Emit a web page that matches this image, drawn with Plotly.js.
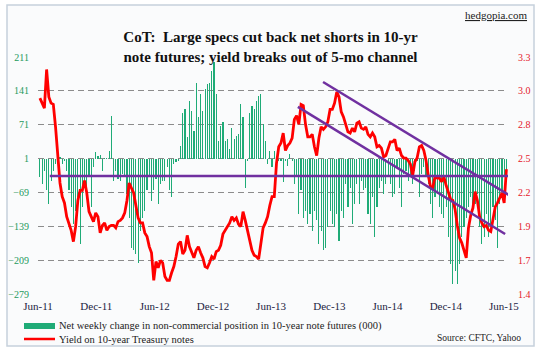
<!DOCTYPE html>
<html><head><meta charset="utf-8">
<script src="https://cdn.plot.ly/plotly-3.0.1.min.js"></script>
<style>html,body{margin:0;padding:0;background:#fff;}#chart{width:541px;height:353px;}</style>
</head><body><div id="chart"></div>
<script>
// Weekly CoT report dates start (Tuesdays)
const firstWeek = [2011, 5, 7];

// Net weekly change in non-commercial position, 10-yr note futures (000)
const netChange = [
-38,-52,-24,-65,-93,-45,-24,-10,-3,5,
-10,-3,-24,-65,-100,-134,-107,-79,-176,-100,
-52,-79,-38,-100,-17,14,7,9,-24,3,
3,17,90,-45,-24,-41,-45,-31,-38,-72,
-121,-183,-189,-196,-214,-148,-121,-107,-65,-38,
-86,-65,-41,-93,-52,-45,-45,-17,-65,-79,
-10,-7,-3,28,96,103,45,121,100,59,
158,86,134,100,145,155,158,183,200,134,
38,69,76,38,41,21,65,41,48,52,
114,86,-59,-3,96,110,103,121,131,134,
72,38,-10,17,-17,17,3,-3,-3,-48,
-3,-14,10,-3,-52,-38,-114,-65,-121,-107,
-134,-114,-148,-107,-127,-176,-148,-189,-183,-141,
-107,-134,-141,-114,-169,-107,-121,-52,-100,-59,
-134,-93,-52,-93,-45,-65,-59,-114,-134,-79,
-162,-100,-59,-45,-72,-52,-38,-52,-79,-72,
-17,-59,-100,-31,-24,-45,-38,-52,-24,-3,
-79,-31,-17,-38,-52,-93,-121,-79,-72,-100,
-114,-121,-100,-162,-217,-258,-231,-258,-217,-162,
-141,-121,-100,-79,-100,-93,-72,-141,-176,-162,
-114,-162,-134,-100,-127,-183,-93,-65,-38,-24
];

// Yield on 10-year Treasury notes (%)
const yield10 = [
2.97,2.93,2.89,3.20,2.98,2.93,2.92,2.74,2.53,2.29,
2.18,2.13,2.02,1.97,1.91,1.82,1.94,2.15,2.23,2.23,
2.31,2.21,2.06,2.02,1.98,2.05,2.02,1.89,1.95,1.97,
1.91,1.94,1.95,1.95,1.93,1.98,1.99,2.01,2.05,2.15,
2.29,2.25,2.21,2.11,2.01,1.97,1.97,1.89,1.86,1.78,
1.73,1.51,1.66,1.61,1.67,1.65,1.54,1.51,1.51,1.57,
1.62,1.70,1.80,1.82,1.72,1.75,1.87,1.78,1.73,1.69,
1.75,1.78,1.73,1.69,1.62,1.61,1.65,1.70,1.68,1.74,
1.75,1.79,1.88,1.91,1.93,1.97,2.02,1.99,2.01,1.96,
1.94,2.06,1.99,1.91,1.82,1.75,1.71,1.70,1.68,1.81,
1.93,1.97,2.02,2.11,2.18,2.18,2.45,2.58,2.61,2.69,
2.55,2.59,2.61,2.65,2.80,2.83,2.76,2.92,2.91,2.76,
2.66,2.66,2.68,2.58,2.51,2.65,2.74,2.72,2.74,2.78,
2.88,2.88,2.93,3.02,2.98,2.86,2.82,2.76,2.70,2.69,
2.73,2.70,2.77,2.78,2.73,2.72,2.74,2.68,2.66,2.69,
2.66,2.58,2.59,2.57,2.50,2.51,2.57,2.62,2.62,2.64,
2.55,2.57,2.51,2.49,2.49,2.47,2.44,2.35,2.46,2.49,
2.58,2.59,2.55,2.47,2.35,2.26,2.25,2.34,2.33,2.33,
2.30,2.34,2.27,2.21,2.16,2.15,2.08,1.95,1.85,1.81,
1.74,1.69,1.93,2.03,2.09,2.22,2.15,2.02,1.97,1.94,
1.95,1.91,1.90,1.99,2.10,2.13,2.17,2.21,2.13,2.40
];

const xTickVals = ['2011-06-01','2011-12-01','2012-06-01','2012-12-01','2013-06-01','2013-12-01','2014-06-01','2014-12-01','2015-06-01'];
const xTickText = ['Jun-11','Dec-11','Jun-12','Dec-12','Jun-13','Dec-13','Jun-14','Dec-14','Jun-15'];
const leftTickVals = [211,141,71,1,-69,-139,-209,-279];
const rightTickVals = [1.4,1.6714,1.9429,2.2143,2.4857,2.7571,3.0286,3.3];
const rightTickText = ['1.4','1.7','1.9','2.2','2.5','2.8','3.0','3.3'];

// Analyst lines (dates, yield)
const flatLineX = ['2011-07-08','2015-06-27'];
const flatLineY = [2.346,2.346];
const upperChannelX = ['2013-11-11','2015-07-22'];
const upperChannelY = [3.10,2.138];
const lowerChannelX = ['2013-08-24','2015-06-05'];
const lowerChannelY = [2.90,1.881];

const weeks = netChange.map((_, i) => {
  const d = new Date(Date.UTC(firstWeek[0], firstWeek[1], firstWeek[2]));
  d.setUTCDate(d.getUTCDate() + 7 * i);
  return d.toISOString().slice(0, 10);
});

const SERIF = 'Liberation Serif, Times New Roman, serif';
const GREEN = '#1fab77';
const RED = '#ff0000';
const PURPLE = '#7030a0';

const traces = [
  {type:'bar', x:weeks, y:netChange, yaxis:'y', name:'Net weekly change',
   marker:{color:GREEN, line:{width:0}}, width:3.6*86400000, hoverinfo:'x+y'},
  {type:'scatter', mode:'lines', x:weeks, y:yield10, yaxis:'y2', name:'Yield',
   line:{color:RED, width:2.8}}
];

function seg(x, y, col) {
  return {type:'line', xref:'x', yref:'y2', x0:x[0], x1:x[1], y0:y[0], y1:y[1],
          line:{color:col, width:2.5}, layer:'above'};
}
function px(xp){ return (xp - 38) / 470; }
function py(yp){ return (294 - yp) / 237; }

const layout = {
  width:541, height:353,
  margin:{l:38, r:33, t:57, b:59, pad:0},
  paper_bgcolor:'#ffffff', plot_bgcolor:'#fcfcf5',
  showlegend:false, bargap:0,
  font:{family:SERIF},
  title:{text:'<b>CoT:  Large specs cut back net shorts in 10-yr<br>note futures; yield breaks out of 5-mo channel</b>',
         font:{family:SERIF, size:15, color:'#111111'}, x:0.5, xanchor:'center', xref:'container',
         y:1 - 42/353, yanchor:'middle', yref:'container'},
  xaxis:{type:'date', range:['2011-06-01','2015-06-14'], tickvals:xTickVals, ticktext:xTickText,
         showgrid:false, zeroline:false, showline:false, ticks:'',
         tickfont:{family:SERIF, size:11, color:'#1c2342'}, ticklabelstandoff:4},
  yaxis:{range:[-279,211], tickvals:leftTickVals, showgrid:true, gridcolor:'#8c8c8c', gridwidth:1,
         griddash:'6px,4px', zeroline:false, showline:false, ticks:'',
         tickfont:{family:SERIF, size:10, color:'#1e9a5c'}, ticklabelstandoff:8},
  yaxis2:{overlaying:'y', side:'right', range:[1.4,3.3], tickvals:rightTickVals, ticktext:rightTickText,
          showgrid:false, zeroline:false, showline:false, ticks:'',
          tickfont:{family:SERIF, size:10, color:'#e5202a'}, ticklabelstandoff:9},
  shapes:[
    {type:'rect', xref:'paper', yref:'paper', x0:px(7), x1:px(534), y0:py(346), y1:py(5),
     line:{color:'#c6d1dc', width:1.5}, fillcolor:'#fafbfc', layer:'below'},
    seg(flatLineX, flatLineY, PURPLE),
    seg(upperChannelX, upperChannelY, PURPLE),
    seg(lowerChannelX, lowerChannelY, PURPLE),
    {type:'rect', xref:'paper', yref:'paper', x0:px(24), x1:px(55), y0:py(329), y1:py(323),
     line:{width:0}, fillcolor:GREEN},
    {type:'line', xref:'paper', yref:'paper', x0:px(24), x1:px(55), y0:py(339), y1:py(339),
     line:{color:RED, width:2.5}}
  ],
  annotations:[
    {xref:'paper', yref:'paper', x:px(57), y:py(326), xanchor:'left', yanchor:'middle', showarrow:false,
     text:'Net weekly change in non-commercial position in 10-year note futures (000)',
     font:{family:SERIF, size:10.5, color:'#222222'}},
    {xref:'paper', yref:'paper', x:px(57), y:py(339), xanchor:'left', yanchor:'middle', showarrow:false,
     text:'Yield on 10-year Treasury notes', font:{family:SERIF, size:10.5, color:'#222222'}},
    {xref:'paper', yref:'paper', x:px(523), y:py(338), xanchor:'right', yanchor:'middle', showarrow:false,
     text:'Source: CFTC, Yahoo', font:{family:SERIF, size:9.5, color:'#222222'}},
    {xref:'paper', yref:'paper', x:px(529), y:py(15), xanchor:'right', yanchor:'middle', showarrow:false,
     text:'<span style="text-decoration:underline">hedgopia.com</span>', font:{family:SERIF, size:11, color:'#222222'}}
  ]
};

Plotly.newPlot('chart', traces, layout, {displayModeBar:false, staticPlot:true});
</script></body></html>
